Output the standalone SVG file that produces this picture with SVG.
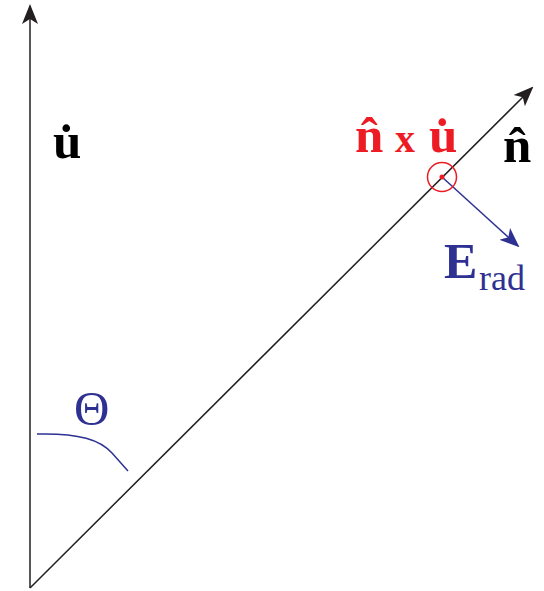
<svg xmlns="http://www.w3.org/2000/svg" width="544" height="591" viewBox="0 0 544 591">
<style>
.ax{stroke:#231f20;stroke-width:1.5;fill:none}
.bl{stroke:#2e3192;stroke-width:1.5;fill:none}
text{font-family:'Liberation Serif',serif}
.b{font-weight:bold}
</style>
<defs>
<marker id="ah" viewBox="0 0 20 20" refX="18" refY="10" markerWidth="20" markerHeight="20" markerUnits="userSpaceOnUse" orient="auto">
<path d="M0,2 L20,10 L0,18 L5,10 Z" fill="#231f20"/>
</marker>
<marker id="bh" viewBox="0 0 20 20" refX="18" refY="10" markerWidth="20" markerHeight="20" markerUnits="userSpaceOnUse" orient="auto">
<path d="M0,2 L20,10 L0,18 L5,10 Z" fill="#2e3192"/>
</marker>
</defs>
<g id="connectors">
<line class="ax" x1="30" y1="588" x2="30" y2="6" marker-end="url(#ah)"/>
<line class="ax" x1="30" y1="588" x2="532" y2="88" marker-end="url(#ah)"/>
<line class="bl" x1="442" y1="177" x2="518" y2="246" marker-end="url(#bh)"/>
<path class="bl" d="M37,434 C80,433 100,440 112,453 L128,471"/>
</g>
<g id="udot">
<text class="b" x="53" y="158" font-size="51" fill="#000">u̇</text>
</g>
<g id="nxu">
<text class="b" x="355" y="152" font-size="51" fill="#ed1c24">n̂</text>
<text class="b" x="395" y="152" font-size="40" fill="#ed1c24">x</text>
<text class="b" x="429" y="152" font-size="51" fill="#ed1c24">u̇</text>
</g>
<g id="circ">
<circle cx="442" cy="177" r="14.5" fill="none" stroke="#ed1c24" stroke-width="1.5"/>
<circle cx="442" cy="177" r="2.5" fill="#ed1c24"/>
</g>
<g id="nhat">
<text class="b" x="503" y="162" font-size="51" fill="#000">n̂</text>
</g>
<g id="erad">
<text class="b" x="444" y="278" font-size="50" fill="#2e3192">E</text>
<text x="479" y="290" font-size="36" fill="#2e3192">rad</text>
</g>
<g id="theta">
<text x="74" y="425" font-size="49" fill="#2e3192">Θ</text>
</g>
</svg>
